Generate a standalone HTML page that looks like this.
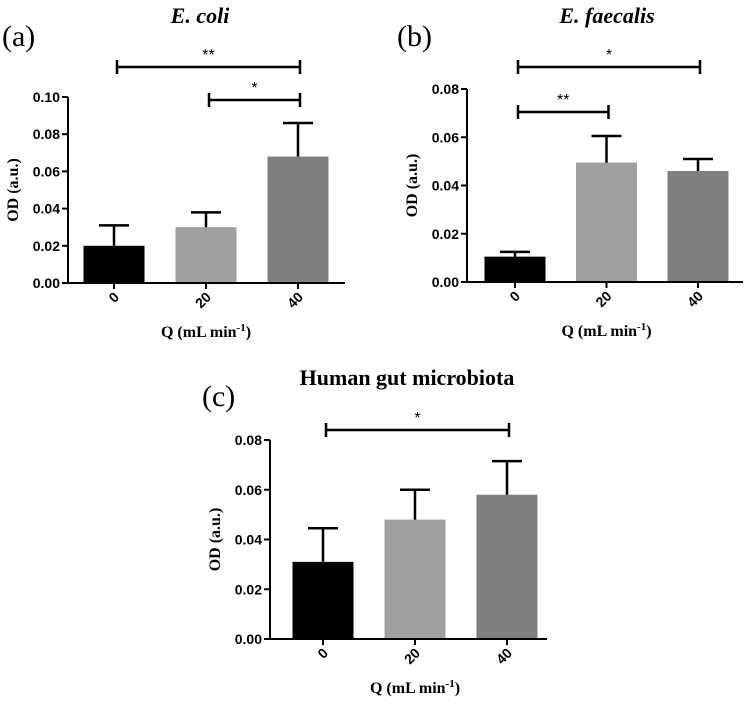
<!DOCTYPE html>
<html><head><meta charset="utf-8"><style>
html,body{margin:0;padding:0;background:#fff;}
svg{display:block;}
</style></head><body>
<svg id="fig" width="749" height="709" xmlns="http://www.w3.org/2000/svg"></svg>
<script>
const categories = ["0", "20", "40"];
const ecoliMeans = [0.020, 0.030, 0.068];
const ecoliErr = [0.031, 0.038, 0.086];
const ecoliTicks = [0, 0.02, 0.04, 0.06, 0.08, 0.10];
const faecMeans = [0.0105, 0.0495, 0.046];
const faecErr = [0.0125, 0.0605, 0.051];
const faecTicks = [0, 0.02, 0.04, 0.06, 0.08];
const gutMeans = [0.031, 0.048, 0.058];
const gutErr = [0.0445, 0.060, 0.0715];
const gutTicks = [0, 0.02, 0.04, 0.06, 0.08];
const barColors = ["#000000", "#a0a0a0", "#7f7f7f"];

const NS = "http://www.w3.org/2000/svg";
const svg = document.getElementById('fig');
function mk(tag, attrs, parent, text){
  const e = document.createElementNS(NS, tag);
  for (const k in attrs) e.setAttribute(k, attrs[k]);
  if (text !== undefined) e.textContent = text;
  (parent || svg).appendChild(e);
  return e;
}

function panel(cfg){
  const g = mk('g', {});
  
  
  const y = v => cfg.y0 - (v / cfg.ymax) * (cfg.y0 - cfg.yTop);
  const xc = i => cfg.xc0 + i * cfg.step;
  const bw = 61;
  cfg.means.forEach((m, i) => {
    const r = mk('rect', {x: xc(i) - bw/2, y: y(m), width: bw, height: cfg.y0 - y(m), fill: barColors[i]}, g);
    
    
    const eb = mk('path', {d: `M${xc(i)},${y(m)} V${y(cfg.err[i])} M${xc(i)-15},${y(cfg.err[i])} H${xc(i)+15}`, stroke: '#000', 'stroke-width': 2.5, fill: 'none'}, g);
    
    
  });
  const ax = mk('path', {d: `M${cfg.ax},${y(cfg.ticks[cfg.ticks.length-1])} V${cfg.y0} H${cfg.axEnd}`, stroke: '#000', 'stroke-width': 2, fill: 'none'}, g);
  
  
  cfg.ticks.forEach(t => {
    mk('line', {x1: cfg.ax - 6, x2: cfg.ax, y1: y(t), y2: y(t), stroke: '#000', 'stroke-width': 2}, g);
    const tl = mk('text', {x: cfg.ax - 8, y: y(t) + 5, 'text-anchor': 'end', 'font-family': 'Liberation Sans, sans-serif', 'font-weight': 'bold', 'font-size': 14}, g, t.toFixed(2));
    
    
  });
  categories.forEach((c, i) => {
    mk('line', {x1: xc(i), x2: xc(i), y1: cfg.y0, y2: cfg.y0 + 6, stroke: '#000', 'stroke-width': 2}, g);
    const tl = mk('text', {x: 0, y: 0, 'text-anchor': 'end', 'font-family': 'Liberation Sans, sans-serif', 'font-weight': 'bold', 'font-size': 14, transform: `translate(${xc(i)+6},${cfg.y0 + 15}) rotate(-45)`}, g, c);
    
    
  });
  const yt = mk('text', {x: 0, y: 0, 'text-anchor': 'middle', 'font-family': 'Liberation Serif, serif', 'font-weight': 'bold', 'font-size': 16, transform: `translate(${cfg.ax - 50},${(cfg.y0 + y(cfg.ticks[cfg.ticks.length-1]))/2}) rotate(-90)`}, g, 'OD (a.u.)');
  
  
  const xt = mk('text', {x: xc(1), y: cfg.y0 + 54, 'text-anchor': 'middle', 'font-family': 'Liberation Serif, serif', 'font-weight': 'bold', 'font-size': 16}, g);
  xt.innerHTML = 'Q (mL min<tspan dy="-6" font-size="11">-1</tspan><tspan dy="6">)</tspan>';
  
  
  const tt = mk('text', {x: cfg.titleX, y: cfg.titleY, 'text-anchor': 'middle', 'font-family': 'Liberation Serif, serif', 'font-weight': 'bold', 'font-style': cfg.italic ? 'italic' : 'normal', 'font-size': 22}, g, cfg.title);
  
  
  const pl = mk('text', {x: cfg.labX, y: cfg.labY, 'font-family': 'Liberation Serif, serif', 'font-size': 30}, g, cfg.label);
  
  
  cfg.sig.forEach(s => {
    const x1 = xc(s[0]) + 3, x2 = xc(s[1]) + 2;
    const b = mk('path', {d: `M${x1},${s[2]-7} V${s[2]+7} M${x1},${s[2]} H${x2} M${x2},${s[2]-7} V${s[2]+7}`, stroke: '#000', 'stroke-width': 2.5, fill: 'none'}, g);
    
    
    const st = mk('text', {x: (x1 + x2)/2, y: s[2] - 7, 'text-anchor': 'middle', 'font-family': 'Liberation Sans, sans-serif', 'font-size': 16}, g, s[3]);
    
    
  });
}

panel({name: 'panel-a-ecoli', means: ecoliMeans, err: ecoliErr, ticks: ecoliTicks, ymax: 0.10, y0: 283, yTop: 97,
  xc0: 114, step: 92, ax: 68, axEnd: 345, title: 'E. coli', italic: true, titleX: 200, titleY: 23, label: '(a)', labX: 2, labY: 46,
  sig: [[0, 2, 67, '**'], [1, 2, 100, '*']]});
panel({name: 'panel-b-faecalis', means: faecMeans, err: faecErr, ticks: faecTicks, ymax: 0.08, y0: 282, yTop: 89,
  xc0: 515, step: 91.5, ax: 467, axEnd: 743, title: 'E. faecalis', italic: true, titleX: 607, titleY: 23, label: '(b)', labX: 397, labY: 46,
  sig: [[0, 2, 67, '*'], [0, 1, 112, '**']]});
panel({name: 'panel-c-gut', means: gutMeans, err: gutErr, ticks: gutTicks, ymax: 0.08, y0: 639, yTop: 440,
  xc0: 323, step: 92, ax: 270, axEnd: 547, title: 'Human gut microbiota', italic: false, titleX: 407, titleY: 385, label: '(c)', labX: 202, labY: 406,
  sig: [[0, 2, 430, '*']]});
</script>
</body></html>
